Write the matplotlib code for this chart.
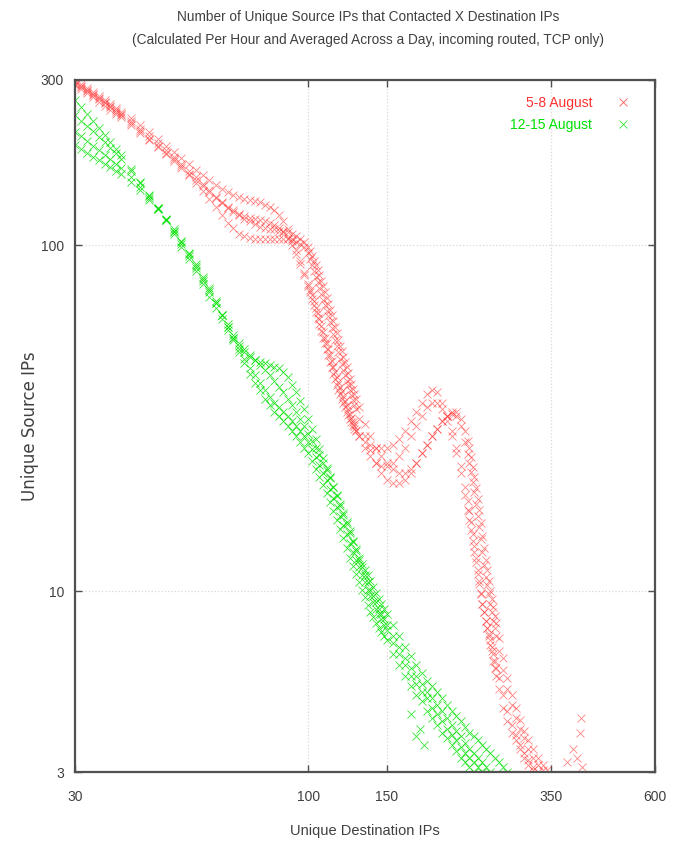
import matplotlib
matplotlib.use("Agg")
import matplotlib.pyplot as plt
from matplotlib.ticker import FixedLocator, FixedFormatter, NullLocator

plt.rcParams['font.family'] = ['Liberation Sans', 'DejaVu Sans']

TITLE_1 = "Number of Unique Source IPs that Contacted X Destination IPs"
TITLE_2 = "(Calculated Per Hour and Averaged Across a Day, incoming routed, TCP only)"

# unique destination IPs sampled for the 5-8 August days
red_x = [30, 31, 32, 33, 34, 35, 36, 37, 38,
         40, 42, 44, 46, 48, 50, 52, 54, 56, 58, 60, 62, 64, 66, 68, 70, 72, 74, 76, 78, 80,
         82, 84, 86, 88, 90, 92, 94, 96, 98,
         100, 101, 102, 103, 104, 105, 106, 107, 108, 109, 110, 111, 112, 113, 114,
         115, 116, 117, 118, 119, 120, 121, 122, 123, 124, 125, 126, 127, 128,
         130, 134, 138, 142, 146, 150,
         155, 160, 165, 170, 175, 180, 185, 190, 195, 200, 205, 210, 215, 220, 225,
         228, 230, 232, 234, 236, 238, 240, 242, 244, 246, 248, 250, 252, 254, 256, 258, 260, 262, 264,
         268, 274, 280, 286, 292, 298,
         305, 312, 320, 328, 336, 344, 352]

red_day1 = [300, 292, 285, 277, 270, 262, 256, 249, 243,
            233, 222, 212, 203, 194, 186, 178, 171, 165, 159, 154, 149, 145, 142, 140, 138, 136, 135, 134, 133, 131,
            129, 126, 122, 117, 111, 104, 97, 90, 83,
            76, 73, 70, 67, 64, 61.5, 59, 56.5, 54, 52, 50, 48, 46, 44.5, 42.5,
            41, 39.5, 38, 37, 36, 35, 34, 33, 32.3, 31.5, 30.8, 30.1, 29.5, 29,
            28, 27, 26.5, 26, 26, 26,
            26.5, 27.5, 29, 31, 33, 35, 37, 38, 37.5, 35, 32, 29, 26, 23, 20,
            18.2, 17, 15.8, 14.6, 13.5, 12.5, 11.5, 10.7, 9.9, 9.2, 8.7, 8.2, 7.8, 7.4, 7.0, 6.7, 6.3, 6.0, 5.7,
            5.2, 4.6, 4.2, 3.9, 3.7, 3.5,
            3.3, 3.15, 3.05, 2.95, 2.9, 2.85, 2.8]
red_day2 = [296, 289, 281, 273, 266, 259, 252, 246, 240,
            228, 217, 207, 197, 188, 180, 172, 164, 157, 150, 144, 138, 133, 129, 126, 123, 121, 120, 119, 118, 117,
            116, 114, 112, 109, 105, 100, 94, 88, 82,
            77, 74, 71.5, 69, 66, 63.5, 61, 58.5, 56, 54, 52, 50, 48, 46.2, 44.5,
            43, 41.6, 40.2, 39, 37.8, 36.6, 35.5, 34.5, 33.5, 32.5, 31.6, 30.8, 30, 29.3,
            28, 26, 24.5, 23.5, 23, 23,
            23.5, 24.5, 26, 28, 30, 32, 34, 35, 35, 33.5, 31, 28, 25, 22, 19,
            17.2, 16, 15, 14, 13, 12.1, 11.2, 10.5, 9.8, 9.2, 8.7, 8.2, 7.8, 7.5, 7.2, 6.9, 6.6, 6.3, 6.0,
            5.6, 5.0, 4.5, 4.1, 3.85, 3.6,
            3.4, 3.25, 3.1, 3.0, 2.95, 2.9, 2.85]
red_day3 = [290, 283, 276, 268, 260, 253, 246, 240, 234,
            222, 211, 201, 192, 183, 175, 167, 159, 151, 143, 136, 129, 122, 116, 112, 108, 106, 105, 104, 104, 104,
            104, 104, 104, 104, 104, 103, 102, 101, 99,
            95, 91, 87.5, 84, 81, 78, 75, 72.3, 69.6, 67, 64.5, 62.2, 60, 57.6, 55.3,
            53, 51, 49, 47, 45.3, 43.6, 42, 40.6, 39.3, 38, 36.8, 35.6, 34.5, 33.5,
            31.5, 28, 25.5, 23.5, 22, 21,
            20.5, 20.5, 21, 22, 23.5, 25, 26.5, 28, 29.5, 31, 32, 32.5, 32, 30, 27,
            24.9, 23.5, 22.1, 20.7, 19.3, 17.9, 16.5, 15.3, 14.1, 13, 11.9, 11, 10.4, 9.8, 9.2, 8.7, 8.2, 7.8, 7.4,
            6.7, 5.9, 5.2, 4.7, 4.3, 4.0,
            3.75, 3.5, 3.3, 3.15, 3.05, 2.95, 2.9]
red_day4 = [293, 286, 279, 271, 264, 257, 250, 243, 237,
            225, 214, 203, 194, 185, 177, 169, 161, 154, 148, 142, 137, 132, 128, 125, 122, 119, 117, 115, 113, 112,
            111, 111, 110, 110, 109, 108, 106, 104, 102,
            99, 96, 93, 90, 87.3, 84.6, 82, 79, 76, 73, 70.3, 67.6, 65, 62.6, 60.3,
            58, 55.6, 53.3, 51, 49.3, 47.6, 46, 44.3, 42.6, 41, 39.6, 38.3, 37, 35.9,
            34, 30.5, 28, 26, 24.5, 23.5,
            22.5, 22, 22, 22.5, 23.5, 25, 26.5, 28, 29.5, 31, 32, 33, 33, 31.5, 29,
            27.2, 26, 24.4, 22.8, 21.3, 19.9, 18.5, 17.1, 15.7, 14.4, 13.3, 12.3, 11.5, 10.7, 10, 9.5, 9.0, 8.5, 8.1,
            7.3, 6.4, 5.6, 5.0, 4.6, 4.25,
            3.95, 3.7, 3.5, 3.3, 3.15, 3.05, 2.95]
red_tail_x = [380, 392, 402, 407, 410, 412]
red_tail_y = [3.2, 3.5, 3.3, 3.9, 4.3, 3.1]

# unique destination IPs sampled for the 12-15 August days
green_x = [30, 31, 32, 33, 34, 35, 36, 37, 38,
           40, 42, 44, 46, 48, 50, 52, 54, 56, 58, 60, 62, 64, 66, 68, 70, 72, 74, 76, 78, 80,
           82, 84, 86, 88, 90, 92, 94, 96, 98,
           100, 102, 104, 106, 108, 110, 112, 114, 116, 118, 120, 122, 124,
           126, 128, 130, 132, 134, 136, 138, 140, 142, 144, 146, 148, 150,
           155, 160, 165, 170, 175, 180, 185, 190, 195, 200, 205, 210, 215, 220, 225, 230, 235, 240, 245, 250,
           256, 262, 268, 274, 280]

green_day1 = [262, 250, 239, 228, 218, 208, 199, 190, 182,
              166, 152, 140, 128, 118, 108, 99, 91, 84, 77, 71, 66, 61, 57, 54, 51, 49, 47.5, 46.5, 46, 45.5,
              45, 44.5, 44, 43, 41.5, 39.5, 37.5, 35.5, 33.5,
              31.5, 29.5, 27.6, 25.8, 24.2, 22.7, 21.3, 20.0, 18.8, 17.6, 16.6, 15.6, 14.7,
              13.9, 13.1, 12.5, 12.0, 11.5, 11.1, 10.7, 10.3, 9.9, 9.5, 9.2, 8.9, 8.6,
              8.0, 7.4, 6.9, 6.5, 6.1, 5.8, 5.5, 5.3, 5.1, 4.9, 4.7, 4.5, 4.35, 4.2, 4.05, 3.9, 3.8, 3.7, 3.6, 3.5,
              3.4, 3.3, 3.2, 3.1, 3.0]
green_day2 = [238, 229, 221, 213, 205, 198, 191, 184, 177,
              164, 151, 139, 128, 118, 109, 101, 93, 86, 79, 73, 68, 63, 59, 55, 52, 50, 48, 46.5, 45, 43.5,
              42, 40.5, 39, 37.5, 36, 34.5, 33, 31.5, 30,
              28.5, 27.2, 25.9, 24.7, 23.5, 22.4, 21.2, 20.0, 18.9, 17.8, 16.8, 15.8, 14.9,
              14.0, 13.2, 12.3, 11.7, 11.1, 10.6, 10.1, 9.7, 9.3, 8.9, 8.6, 8.3, 8.0,
              7.4, 6.9, 6.4, 6.0, 5.7, 5.4, 5.1, 4.9, 4.7, 4.5, 4.3, 4.1, 3.95, 3.8, 3.65, 3.5, 3.4, 3.3, 3.2, 3.1,
              3.0, 2.95, 2.9, 2.85, 2.8]
green_day3 = [212, 206, 200, 194, 188, 182, 177, 172, 167,
              157, 147, 137, 127, 118, 110, 102, 94, 87, 80, 74, 68, 63, 58, 54, 50, 47, 44, 42, 40, 38,
              36.5, 35, 34, 33, 32, 31, 30, 29, 28,
              27, 25.7, 24.4, 23.2, 22.0, 20.9, 19.7, 18.6, 17.5, 16.5, 15.5, 14.6, 13.8,
              13.0, 12.3, 11.7, 11.1, 10.6, 10.1, 9.7, 9.3, 8.9, 8.6, 8.3, 8.0, 7.7,
              7.1, 6.6, 6.1, 5.7, 5.4, 5.1, 4.9, 4.6, 4.4, 4.2, 4.0, 3.85, 3.7, 3.55, 3.4, 3.3, 3.2, 3.1, 3.0, 2.95,
              2.9, 2.85, 2.8, 2.75, 2.7]
green_day4 = [195, 190, 185, 180, 176, 172, 168, 164, 160,
              152, 144, 135, 127, 119, 111, 103, 95, 88, 81, 75, 69, 63, 58, 53, 49, 45.5, 42.5, 40, 38, 36,
              34.5, 33, 32, 31, 30, 29, 28, 27, 26,
              25, 23.8, 22.6, 21.4, 20.3, 19.2, 18.1, 17.0, 16.0, 15.1, 14.2, 13.3, 12.5,
              11.8, 11.2, 10.6, 10.1, 9.6, 9.1, 8.7, 8.4, 8.1, 7.8, 7.6, 7.4, 7.2,
              6.6, 6.1, 5.7, 5.3, 5.0, 4.8, 4.5, 4.3, 4.1, 3.9, 3.75, 3.6, 3.45, 3.3, 3.2, 3.1, 3.0, 2.9, 2.85, 2.8,
              2.75, 2.7, 2.65, 2.6, 2.55]
green_extra_x = [170, 175, 178, 182]
green_extra_y = [4.4, 3.8, 4.0, 3.6]

x_ticks = [30, 100, 150, 350, 600]
y_ticks = [3, 10, 100, 300]

RED = '#ff3030'
GREEN = '#00e000'
GRAY = '#505050'
TXT = '#404040'

fig = plt.figure(figsize=(6.81, 8.46), dpi=100)
ax = fig.add_axes([75 / 681, 1 - 772 / 846, 580 / 681, 692 / 846])
ax.set_xscale('log')
ax.set_yscale('log')

mk = dict(linestyle='none', marker='x', markersize=5.5, markeredgewidth=0.6)
for i, d in enumerate([red_day1, red_day2, red_day3, red_day4]):
    ax.plot(red_x, d, color=RED, alpha=0.6, label='5-8 August' if i == 0 else None, **mk)
ax.plot(red_tail_x, red_tail_y, color=RED, alpha=0.6, **mk)
for i, d in enumerate([green_day1, green_day2, green_day3, green_day4]):
    ax.plot(green_x, d, color=GREEN, alpha=0.8, label='12-15 August' if i == 0 else None, **mk)
ax.plot(green_extra_x, green_extra_y, color=GREEN, alpha=0.8, **mk)

ax.set_xlim(30, 600)
ax.set_ylim(3, 300)
ax.xaxis.set_major_locator(FixedLocator(x_ticks))
ax.xaxis.set_major_formatter(FixedFormatter([str(v) for v in x_ticks]))
ax.yaxis.set_major_locator(FixedLocator(y_ticks))
ax.yaxis.set_major_formatter(FixedFormatter([str(v) for v in y_ticks]))
ax.xaxis.set_minor_locator(NullLocator())
ax.yaxis.set_minor_locator(NullLocator())

ax.grid(True, which='major', color='#d8d8d8', linestyle=':', linewidth=0.9)
ax.tick_params(which='major', direction='in', length=5, width=1, color=GRAY,
               labelsize=10, labelcolor=TXT, top=True, right=True, pad=8)
ax.tick_params(axis='x', pad=13)
for sp in ax.spines.values():
    sp.set_color(GRAY)
    sp.set_linewidth(1.6)

ax.set_xlabel('Unique Destination IPs', fontsize=10.5, color=TXT, labelpad=14)
ax.set_ylabel('Unique Source IPs', fontsize=12, color=TXT, labelpad=1,
              family=['DejaVu Sans'])
fig.text(0.54, 1 - 17 / 846, TITLE_1, fontsize=9.8, color=TXT, ha='center', va='center')
fig.text(0.54, 1 - 40 / 846, TITLE_2, fontsize=9.8, color=TXT, ha='center', va='center')

leg = ax.legend(loc='upper right', bbox_to_anchor=(0.98, 0.995), frameon=False, markerfirst=False,
                labelcolor='linecolor', fontsize=10, handlelength=1.2, handletextpad=1.6,
                labelspacing=0.55)
for h in leg.legend_handles:
    h.set_alpha(0.8)

fig.savefig('out.png', dpi=100)
